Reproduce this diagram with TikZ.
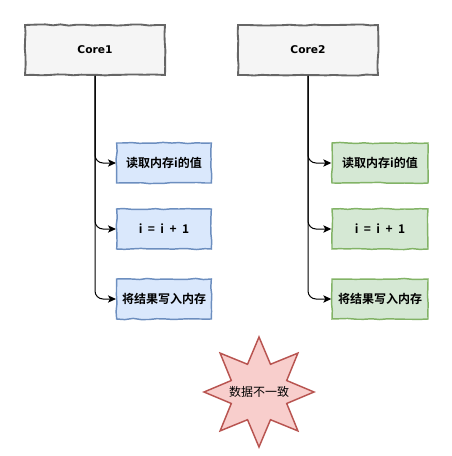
\documentclass[tikz,border=0pt]{standalone}
\usepackage{fontspec}
\setmainfont{DejaVu Sans}
\newfontfamily\cjk{Noto Sans CJK SC}[BoldFont={Noto Sans CJK SC Bold}]
\usetikzlibrary{arrows.meta,decorations.pathmorphing}
\definecolor{greyfill}{HTML}{F5F5F5}
\definecolor{greyline}{HTML}{666666}
\definecolor{bluefill}{HTML}{DAE8FC}
\definecolor{blueline}{HTML}{6C8EBF}
\definecolor{greenfill}{HTML}{D5E8D4}
\definecolor{greenline}{HTML}{82B366}
\definecolor{redfill}{HTML}{F8CECC}
\definecolor{redline}{HTML}{B85450}
\pgfmathsetseed{7}
\tikzset{
  sketch/.style={decorate,decoration={random steps,segment length=6pt,amplitude=0.45pt}},
  corebox/.style={sketch,draw=greyline,fill=greyfill,line width=1.4pt,minimum width=105pt,minimum height=37.5pt,
    font=\fontsize{8}{10}\selectfont\bfseries,inner sep=0pt},
  bluebox/.style={sketch,draw=blueline,fill=bluefill,line width=1.1pt,minimum width=71pt,minimum height=30pt,
    font=\cjk\bfseries\fontsize{9}{11}\selectfont,inner sep=0pt},
  greenbox/.style={sketch,draw=greenline,fill=greenfill,line width=1.1pt,minimum width=72pt,minimum height=30pt,
    font=\cjk\bfseries\fontsize{9}{11}\selectfont,inner sep=0pt},
  starpath/.style={draw=redline,fill=redfill,line width=1.1pt,line join=miter},
  startext/.style={inner sep=0pt,font=\cjk\fontsize{9}{11}\selectfont},
  conn/.style={draw=black,line width=0.75pt,rounded corners=6pt,-{Stealth[length=6pt,width=5.5pt,inset=1.5pt]}}
}
\begin{document}
\begin{tikzpicture}[x=0.75pt,y=-0.75pt]
\useasboundingbox (0,0) rectangle (452,456);
\node[corebox] (c1) at (95,50) {Core1};
\node[corebox] (c2) at (308,50) {Core2};

\node[bluebox] (a1) at (164,163) {读取内存i的值};
\node[bluebox] (a2) at (164,229) {i\ \ =\ \ i\ \ +\ \ 1};
\node[bluebox] (a3) at (164,299) {将结果写入内存};
\node[greenbox] (b1) at (380,163) {读取内存i的值};
\node[greenbox] (b2) at (380,229) {i\ \ =\ \ i\ \ +\ \ 1};
\node[greenbox] (b3) at (380,299) {将结果写入内存};

\draw[conn] (c1.south) |- (a1.west);
\draw[conn] (c1.south) |- (a2.west);
\draw[conn] (c1.south) |- (a3.west);
\draw[conn] (c2.south) |- (b1.west);
\draw[conn] (c2.south) |- (b2.west);
\draw[conn] (c2.south) |- (b3.west);

\coordinate (sc) at (259,392);
\begin{scope}[shift={(sc)}]
  \draw[starpath] (90:55) \foreach \i in {1,...,15} { -- ({90+\i*22.5}:{mod(\i,2)==0 ? 55 : 30}) } -- cycle;
\end{scope}
\node[startext] (s) at (sc) {数据不一致};
\end{tikzpicture}
\end{document}
